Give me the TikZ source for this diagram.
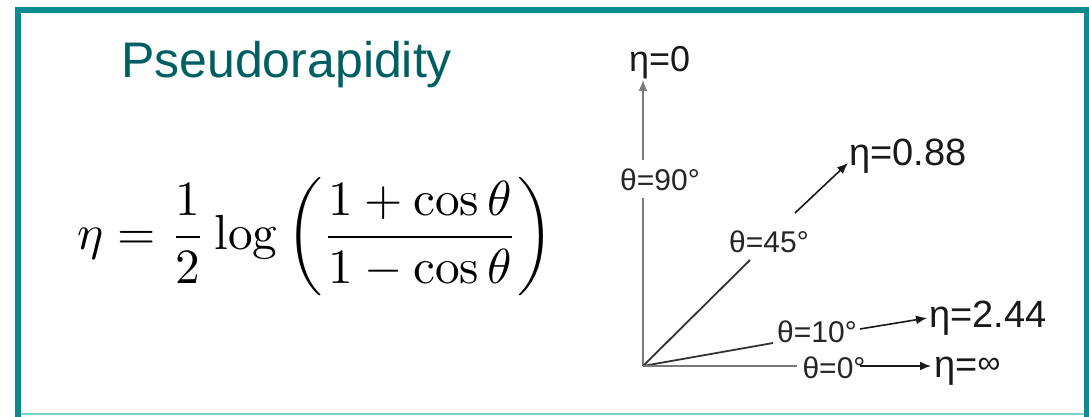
\documentclass[tikz,border=0pt]{standalone}
\usepackage[no-math]{fontspec}
\newfontfamily\lab{Liberation Sans}
\usetikzlibrary{arrows.meta}
\definecolor{frameteal}{HTML}{0A8B92}
\definecolor{lightteal}{HTML}{7FCDCD}
\definecolor{titleteal}{HTML}{005F63}
\definecolor{linegray}{HTML}{7A7A7A}
\definecolor{linedark}{HTML}{333333}
\begin{document}
\begin{tikzpicture}[x=1pt,y=-1pt,
  thlabel/.style={font=\lab\fontsize{30}{30}\selectfont, text=black!85, inner sep=0pt, anchor=base},
  etalabel/.style={font=\lab\fontsize{38}{38}\selectfont, text=black!90, inner sep=0pt, anchor=base west},
  grayline/.style={draw=linegray, line width=2.2pt},
  darkline/.style={draw=linedark, line width=1.8pt},
  arr/.style={draw=black!90, line width=1.6pt, -{Latex[length=11pt,width=9pt]}}]
\useasboundingbox (0,0) rectangle (1089,417);
\fill[white] (0,0) rectangle (1089,417);
% frame
\draw[lightteal, line width=2pt] (18,414) -- (1087,414);
\draw[frameteal, line width=6pt] (18,417) -- (18,10) -- (1087,10) -- (1087,417);
% title
\node[anchor=base west, inner sep=0pt, text=titleteal, font=\lab\fontsize{50}{50}\selectfont] (title) at (121,78) {Pseudorapidity};
% formula
\node[inner sep=0pt] (formula) at (316,237) {\resizebox{476pt}{!}{$\displaystyle \eta = \frac{1}{2}\log\left(\frac{1+\cos\theta}{1-\cos\theta}\right)$}};
% origin and line ends
\coordinate (O) at (643,366);
\coordinate (v1) at (643,198);
\coordinate (v2) at (643,160);
\coordinate (v3) at (643,80);
\coordinate (d1) at (750,260);
\coordinate (d2) at (795,213);
\coordinate (d3) at (848,163);
\coordinate (t1) at (773,343);
\coordinate (t2) at (860,329);
\coordinate (t3) at (927,318);
\coordinate (z1) at (797,366);
\coordinate (z2) at (860,366);
\coordinate (z3) at (931,366);
% labels
\node[etalabel, font=\lab\fontsize{36}{36}\selectfont] (e0) at (629,72) {η=0};
\node[thlabel] (th90) at (660,190) {θ=90°};
\node[thlabel] (th45) at (769,252) {θ=45°};
\node[etalabel] (e088) at (849,165) {η=0.88};
\node[thlabel] (th10) at (817,342) {θ=10°};
\node[etalabel] (e244) at (929,327) {η=2.44};
\node[thlabel] (th0) at (834,378) {θ=0°};
\node[etalabel] (einf) at (934,377) {η=\raisebox{4pt}{\fontsize{32}{32}\selectfont ∞}};
% lines
\draw[grayline] (O) -- (v1);
\draw[arr, draw=linegray] (v2) -- (v3);
\draw[darkline] (O) -- (d1);
\draw[arr] (d2) -- (d3);
\draw[darkline] (O) -- (t1);
\draw[arr] (t2) -- (t3);
\draw[grayline] (O) -- (z1);
\draw[arr] (z2) -- (z3);
\end{tikzpicture}
\end{document}
